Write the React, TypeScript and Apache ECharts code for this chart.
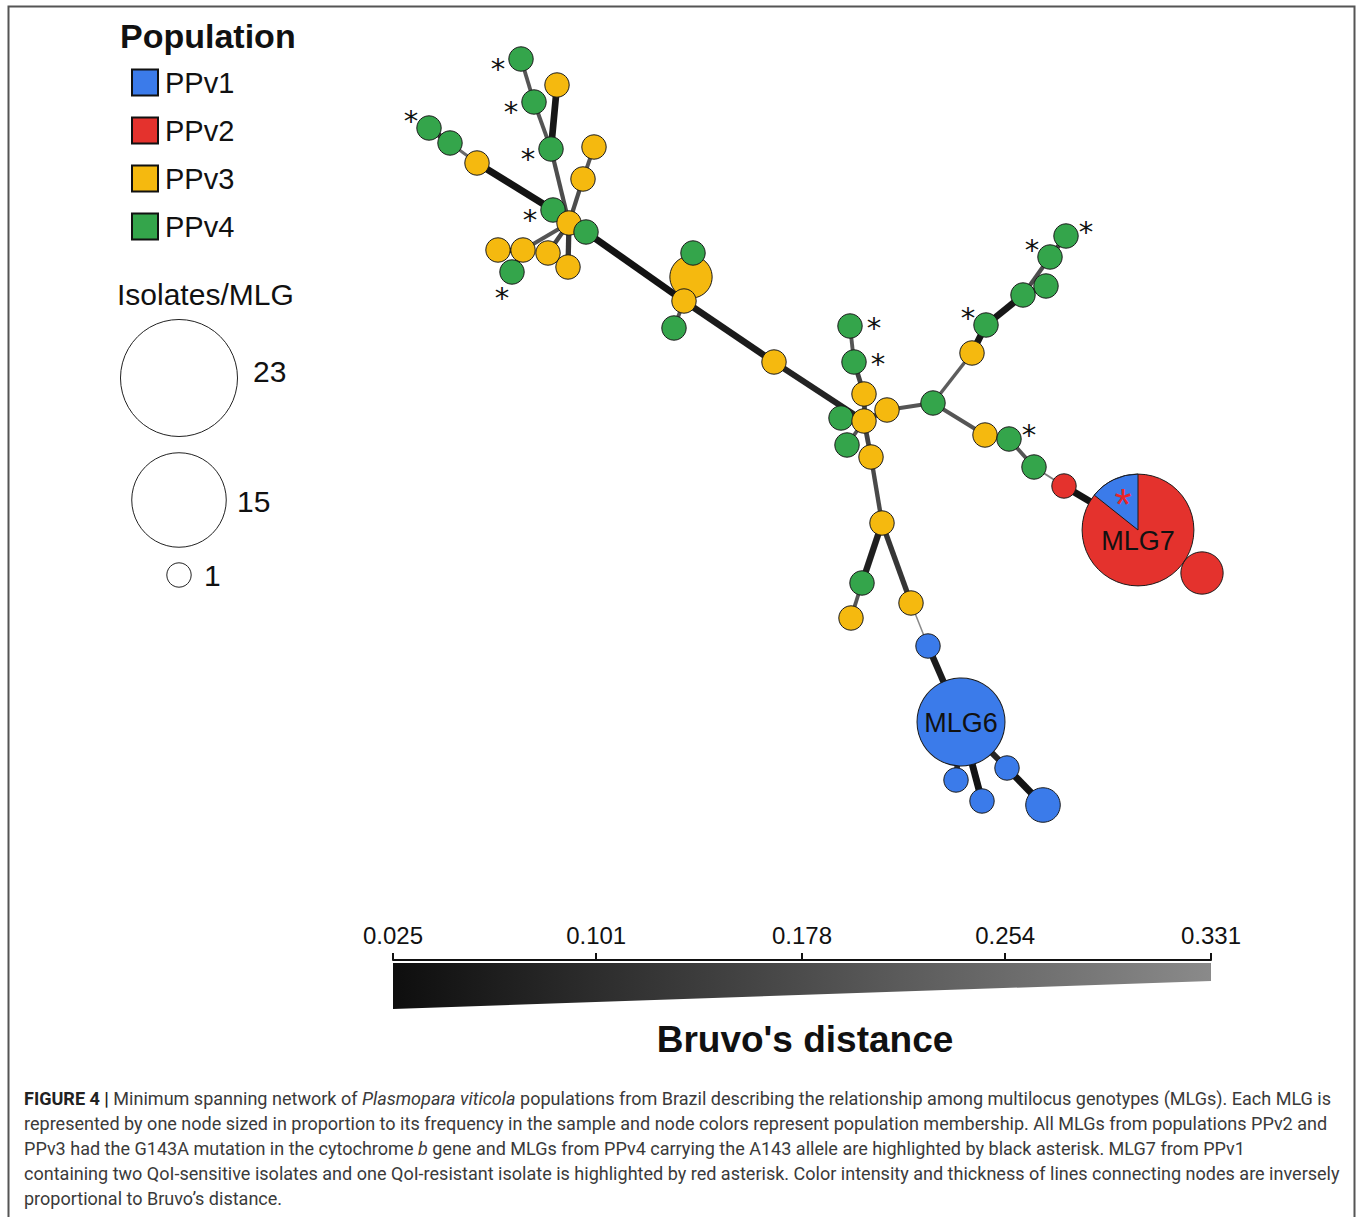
import React, { useEffect, useRef } from "react";
import * as echarts from "echarts";

// ---------- data ----------
const populations = ["PPv1", "PPv2", "PPv3", "PPv4"];
const popColors = ["#3B7BEA", "#E4322D", "#F5B90F", "#34A54B"];

// name, layout x, layout y, population, isolates per MLG, asterisk side
const nodes: [string, number, number, string, number, string][] = [
  ["Y_big", 691, 277, "PPv3", 3, ""],
  ["MLG7", 1138, 530, "PPv2", 21, ""],
  ["R2", 1202, 573, "PPv2", 3, ""],
  ["MLG6", 961, 722, "PPv1", 13, ""],
  ["B5", 1043, 805, "PPv1", 2, ""],
  ["G1", 521, 59, "PPv4", 1, "l"],
  ["Y1", 557, 85, "PPv3", 1, ""],
  ["G2", 534, 102, "PPv4", 1, "l"],
  ["G3", 429, 128, "PPv4", 1, "ul"],
  ["G4", 450, 143, "PPv4", 1, ""],
  ["Y2", 594, 147, "PPv3", 1, ""],
  ["G5", 551, 149, "PPv4", 1, "l"],
  ["Y3", 477, 163, "PPv3", 1, ""],
  ["Y4", 583, 179, "PPv3", 1, ""],
  ["G6", 553, 210, "PPv4", 1, "l"],
  ["Y5", 569, 223, "PPv3", 1, ""],
  ["G7", 586, 232, "PPv4", 1, ""],
  ["Y6", 498, 250, "PPv3", 1, ""],
  ["Y7", 523, 250, "PPv3", 1, ""],
  ["Y8", 548, 253, "PPv3", 1, ""],
  ["Y9", 568, 267, "PPv3", 1, ""],
  ["G8", 512, 272, "PPv4", 1, "bl"],
  ["G9", 693, 253, "PPv4", 1, ""],
  ["Y10", 684, 301, "PPv3", 1, ""],
  ["G10", 674, 328, "PPv4", 1, ""],
  ["Y11", 774, 362, "PPv3", 1, ""],
  ["G11", 850, 326, "PPv4", 1, "r"],
  ["G12", 854, 362, "PPv4", 1, "r"],
  ["Y12", 864, 394, "PPv3", 1, ""],
  ["Y13", 887, 410, "PPv3", 1, ""],
  ["G13", 841, 418, "PPv4", 1, ""],
  ["G14", 847, 445, "PPv4", 1, ""],
  ["Y15", 871, 457, "PPv3", 1, ""],
  ["Y14", 864, 421, "PPv3", 1, ""],
  ["G15", 933, 403, "PPv4", 1, ""],
  ["Y16", 972, 353, "PPv3", 1, ""],
  ["G16", 986, 325, "PPv4", 1, "ul"],
  ["G17", 1023, 295, "PPv4", 1, ""],
  ["G18", 1046, 286, "PPv4", 1, ""],
  ["G19", 1050, 257, "PPv4", 1, "ul"],
  ["G20", 1066, 236, "PPv4", 1, "ur"],
  ["Y17", 985, 435, "PPv3", 1, ""],
  ["G21", 1009, 439, "PPv4", 1, "ur"],
  ["G22", 1034, 467, "PPv4", 1, ""],
  ["R1", 1064, 486, "PPv2", 1, ""],
  ["Y18", 882, 523, "PPv3", 1, ""],
  ["G23", 862, 583, "PPv4", 1, ""],
  ["Y20", 851, 618, "PPv3", 1, ""],
  ["Y19", 911, 603, "PPv3", 1, ""],
  ["B1", 928, 646, "PPv1", 1, ""],
  ["B2", 956, 780, "PPv1", 1, ""],
  ["B3", 982, 801, "PPv1", 1, ""],
  ["B4", 1007, 768, "PPv1", 1, ""],
];

// source, target, Bruvo's distance
const edges: [string, string, number][] = [
  ["G1", "G2", 0.2],
  ["G2", "G5", 0.2],
  ["Y1", "G5", 0.04],
  ["G5", "Y5", 0.18],
  ["Y2", "Y4", 0.2],
  ["Y4", "Y5", 0.18],
  ["G3", "G4", 0.12],
  ["G4", "Y3", 0.25],
  ["Y3", "G6", 0.03],
  ["G6", "Y5", 0.1],
  ["Y5", "G7", 0.1],
  ["Y5", "Y7", 0.2],
  ["Y5", "Y8", 0.16],
  ["Y5", "Y9", 0.12],
  ["Y6", "Y7", 0.12],
  ["Y7", "G8", 0.12],
  ["G7", "Y10", 0.03],
  ["Y10", "Y_big", 0.1],
  ["Y_big", "G9", 0.1],
  ["Y10", "G10", 0.2],
  ["Y10", "Y11", 0.05],
  ["Y11", "Y14", 0.07],
  ["Y14", "G13", 0.15],
  ["Y14", "Y12", 0.15],
  ["Y12", "G12", 0.15],
  ["G12", "G11", 0.2],
  ["Y14", "Y13", 0.15],
  ["Y14", "G14", 0.2],
  ["Y14", "Y15", 0.15],
  ["Y13", "G15", 0.2],
  ["G15", "Y16", 0.22],
  ["Y16", "G16", 0.04],
  ["G16", "G17", 0.04],
  ["G17", "G18", 0.1],
  ["G17", "G19", 0.18],
  ["G19", "G20", 0.15],
  ["G15", "Y17", 0.2],
  ["Y17", "G21", 0.15],
  ["G21", "G22", 0.2],
  ["G22", "R1", 0.3],
  ["R1", "MLG7", 0.03],
  ["MLG7", "R2", 0.1],
  ["Y15", "Y18", 0.17],
  ["Y18", "G23", 0.06],
  ["G23", "Y20", 0.2],
  ["Y18", "Y19", 0.12],
  ["Y19", "B1", 0.33],
  ["B1", "MLG6", 0.05],
  ["MLG6", "B2", 0.1],
  ["MLG6", "B3", 0.03],
  ["MLG6", "B4", 0.08],
  ["B4", "B5", 0.03],
];

// MLG7 composition: node, PPv1 isolates, total isolates
const pieNodes: [string, number, number][] = [["MLG7", 3, 21]];

const sizeLegend = [23, 15, 1];
const distanceTicks = [0.025, 0.101, 0.178, 0.254, 0.331];

const captionLines = [
  "{b|FIGURE 4 |} Minimum spanning network of {i|Plasmopara viticola} populations from Brazil describing the relationship among multilocus genotypes (MLGs). Each MLG is",
  "represented by one node sized in proportion to its frequency in the sample and node colors represent population membership. All MLGs from populations PPv2 and",
  "PPv3 had the G143A mutation in the cytochrome {i|b} gene and MLGs from PPv4 carrying the A143 allele are highlighted by black asterisk. MLG7 from PPv1",
  "containing two QoI-sensitive isolates and one QoI-resistant isolate is highlighted by red asterisk. Color intensity and thickness of lines connecting nodes are inversely",
  "proportional to Bruvo\u2019s distance.",
];

// ---------- styles ----------
const SANS = "Liberation Sans, Arial, Helvetica, sans-serif";
const STAR_FONT = "DejaVu Sans, Liberation Sans, sans-serif";
const CAP = "Roboto, Liberation Sans, Arial, sans-serif";
const CAP_FS = 18.05;
const radiusOf = (n: number) => 12.2 * Math.sqrt(n);
const dMin = distanceTicks[0];
const dMax = distanceTicks[distanceTicks.length - 1];
const edgeStyle = (d: number) => {
  const t = Math.min(1, Math.max(0, (d - dMin) / (dMax - dMin)));
  const g = Math.round(17 + 119 * t);
  return { width: 7 - 5.5 * t, color: `rgb(${g},${g},${g})`, opacity: 1, curveness: 0 };
};
const STAR_FS = 29;
const starAdj = STAR_FS * 0.21;
const starOffsets: Record<string, [number, number]> = {
  l: [-23, 4],
  ul: [-18, -13],
  r: [24, -4],
  ur: [20, -10],
  bl: [-10, 20],
};

export default function App() {
  const ref = useRef<HTMLDivElement>(null);
  useEffect(() => {
    if (!ref.current) return;
    const chart = echarts.init(ref.current, undefined, { renderer: "svg" });

    const graphData = nodes.map(([name, x, y, pop, n, star]) => {
      const item: any = {
        name,
        value: [x, y],
        category: populations.indexOf(pop),
        symbolSize: 2 * radiusOf(n),
        itemStyle: { borderColor: "#1a1a1a", borderWidth: 1 },
        label: { show: false },
      };
      if (star) {
        const o = starOffsets[star];
        item.label = {
          show: true,
          formatter: "*",
          position: "inside",
          offset: [o[0], o[1] + starAdj],
          fontSize: STAR_FS,
          lineHeight: 16,
          color: "#111",
          fontFamily: STAR_FONT,
        };
      }
      if (name.startsWith("MLG")) {
        item.label = {
          show: true,
          formatter: "{b}",
          position: "inside",
          offset: name === "MLG7" ? [0, 11] : [0, 1],
          fontSize: 27,
          color: "#111",
          fontFamily: SANS,
        };
      }
      return item;
    });

    const pieData = pieNodes.map(([name, part, total]) => {
      const nd = nodes.find((n) => n[0] === name)!;
      return [nd[1], nd[2], part, total];
    });

    const legendCircleX = 179;
    const legendCircleY = [378, 500, 575];
    const legendLabelX = [253, 237, 204];
    const legendLabelY = [371, 501, 575];

    const graphics: any[] = [
      {
        type: "rect",
        shape: { x: 8.5, y: 6.5, width: 1346, height: 1240 },
        style: { fill: "none", stroke: "#555", lineWidth: 2 },
        z: 0,
        silent: true,
      },
      ...sizeLegend.map((n, i) => ({
        type: "circle",
        shape: { cx: legendCircleX, cy: legendCircleY[i], r: radiusOf(n) },
        style: { fill: "#fff", stroke: "#222", lineWidth: 1 },
        silent: true,
      })),
      ...sizeLegend.map((n, i) => ({
        type: "text",
        x: legendLabelX[i],
        y: legendLabelY[i],
        style: {
          text: String(n),
          fontSize: 30,
          fontFamily: SANS,
          fill: "#111",
          align: "left",
          verticalAlign: "middle",
        },
        silent: true,
      })),
      {
        type: "text",
        x: 805,
        y: 1039,
        style: {
          text: "Bruvo's distance",
          fontSize: 37,
          fontWeight: "bold",
          fontFamily: SANS,
          fill: "#111",
          align: "center",
          verticalAlign: "middle",
        },
        silent: true,
      },
      ...captionLines.map((line, i) => ({
        type: "text",
        x: 24,
        y: 1098 + i * 25,
        style: {
          text: line,
          fontSize: CAP_FS,
          fontFamily: CAP,
          fill: "#3a3a3a",
          align: "left",
          verticalAlign: "middle",
          rich: {
            b: { fontSize: CAP_FS, fontFamily: CAP, fontWeight: "bold", fill: "#222" },
            i: { fontSize: CAP_FS, fontFamily: CAP, fontStyle: "italic", fill: "#3a3a3a" },
          },
        },
        silent: true,
      })),
    ];

    chart.setOption({
      animation: false,
      backgroundColor: "#fff",
      title: [
        {
          text: "Population",
          left: 120,
          top: 19,
          padding: 0,
          textStyle: { fontSize: 34, fontWeight: "bold", color: "#111", fontFamily: SANS },
        },
        {
          text: "Isolates/MLG",
          left: 117,
          top: 279,
          padding: 0,
          textStyle: { fontSize: 30, fontWeight: "normal", color: "#111", fontFamily: SANS },
        },
      ],
      legend: {
        data: populations,
        orient: "vertical",
        left: 131,
        top: 68,
        padding: 0,
        itemWidth: 26,
        itemHeight: 26,
        itemGap: 19,
        icon: "rect",
        selectedMode: false,
        itemStyle: { borderColor: "#111", borderWidth: 2 },
        textStyle: {
          fontSize: 29,
          lineHeight: 26,
          color: "#111",
          fontFamily: SANS,
          padding: [0, 0, 0, 2],
        },
      },
      grid: [
        { left: 0, top: 0, width: 1360, height: 1217, show: false },
        { left: 393, top: 963, width: 818, height: 46, show: false },
      ],
      xAxis: [
        { gridIndex: 0, type: "value", min: 0, max: 1360, show: false },
        {
          gridIndex: 1,
          type: "value",
          min: dMin,
          max: dMax,
          position: "top",
          offset: 3,
          axisLine: { show: true, onZero: false, lineStyle: { color: "#111", width: 2 } },
          axisTick: {
            show: true,
            customValues: distanceTicks,
            length: 7,
            lineStyle: { color: "#111", width: 2 },
          },
          axisLabel: {
            show: true,
            customValues: distanceTicks,
            formatter: (v: number) => v.toFixed(3),
            fontSize: 24,
            color: "#111",
            fontFamily: SANS,
            margin: 13,
          },
          splitLine: { show: false },
        },
      ],
      yAxis: [
        { gridIndex: 0, type: "value", min: 0, max: 1217, inverse: true, show: false },
        { gridIndex: 1, type: "value", min: 0, max: 1, show: false },
      ],
      series: [
        {
          type: "graph",
          coordinateSystem: "cartesian2d",
          xAxisIndex: 0,
          yAxisIndex: 0,
          layout: "none",
          silent: true,
          emphasis: { disabled: true },
          categories: populations.map((p, i) => ({ name: p, itemStyle: { color: popColors[i] } })),
          data: graphData,
          links: edges.map(([s, t, d]) => ({ source: s, target: t, lineStyle: edgeStyle(d) })),
          lineStyle: { opacity: 1 },
          z: 2,
        },
        {
          type: "custom",
          coordinateSystem: "cartesian2d",
          xAxisIndex: 0,
          yAxisIndex: 0,
          silent: true,
          z: 3,
          data: pieData,
          renderItem: (_p: any, api: any) => {
            const c = api.coord([api.value(0), api.value(1)]);
            const part = api.value(2);
            const total = api.value(3);
            const r = radiusOf(total);
            const a = (part / total) * Math.PI * 2;
            return {
              type: "group",
              children: [
                {
                  type: "sector",
                  shape: {
                    cx: c[0],
                    cy: c[1],
                    r,
                    r0: 0,
                    startAngle: -Math.PI / 2 - a,
                    endAngle: -Math.PI / 2,
                    clockwise: true,
                  },
                  style: { fill: popColors[0], stroke: "#1a1a1a", lineWidth: 1 },
                },
                {
                  type: "text",
                  x: c[0] - 15,
                  y: c[1] - 33 + 44 * 0.17,
                  style: {
                    text: "*",
                    fontSize: 44,
                    fontFamily: SANS,
                    fill: "#E8262A",
                    align: "center",
                    verticalAlign: "middle",
                  },
                },
              ],
            };
          },
        },
        {
          type: "custom",
          coordinateSystem: "cartesian2d",
          xAxisIndex: 1,
          yAxisIndex: 1,
          silent: true,
          z: 2,
          data: [[dMin, dMax]],
          renderItem: (_p: any, api: any) => {
            const a = api.value(0);
            const b = api.value(1);
            const pts = [api.coord([a, 1]), api.coord([b, 1]), api.coord([b, 0.61]), api.coord([a, 0])];
            return {
              type: "polygon",
              shape: { points: pts },
              style: {
                fill: new echarts.graphic.LinearGradient(0, 0, 1, 0, [
                  { offset: 0, color: "#0e0e0e" },
                  { offset: 1, color: "#8a8a8a" },
                ]),
              },
            };
          },
        },
      ],
      graphic: graphics,
    });

    return () => chart.dispose();
  }, []);

  return (
    <div
      ref={ref}
      style={{ position: "fixed", left: 0, top: 0, width: 1360, height: 1217, background: "#fff" }}
    />
  );
}
